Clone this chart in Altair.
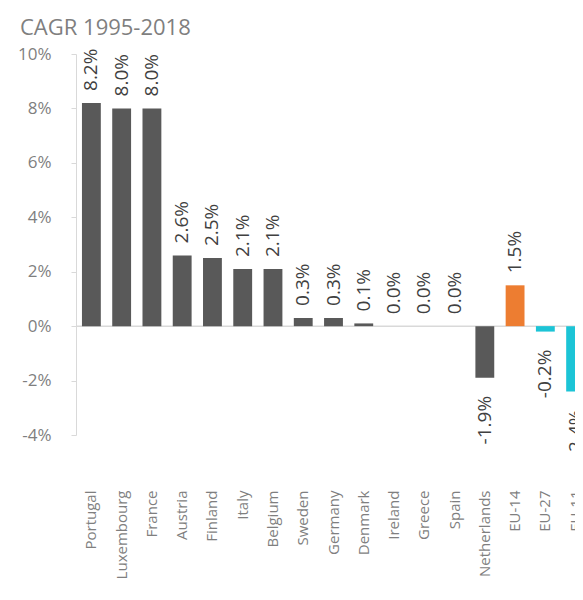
import altair as alt
import pandas as pd

countries = ["Portugal", "Luxembourg", "France", "Austria", "Finland", "Italy",
             "Belgium", "Sweden", "Germany", "Denmark", "Ireland", "Greece",
             "Spain", "Netherlands", "EU-14", "EU-27", "EU-11"]
cagr = [8.2, 8.0, 8.0, 2.6, 2.5, 2.1, 2.1, 0.3, 0.3, 0.1, 0.0, 0.0, 0.0,
        -1.9, 1.5, -0.2, -2.4]
colors = ["#595959"] * 14 + ["#ed7d31", "#1cc4d6", "#1cc4d6"]
y_ticks = [-4, -2, 0, 2, 4, 6, 8, 10]

df = pd.DataFrame({"country": countries, "value": cagr, "color": colors})
df["label"] = [f"{v:.1f}%" for v in cagr]

FONT = "Open Sans"

x_enc = alt.X(
    "country:N", sort=countries, title=None,
    scale=alt.Scale(paddingInner=0.377, paddingOuter=0.197),
    axis=alt.Axis(labelAngle=270, domain=False, ticks=False, labelPadding=55,
                  labelColor="#7f7f7f", labelFontSize=15, labelFont=FONT),
)
y_enc = alt.Y(
    "value:Q", title=None,
    scale=alt.Scale(domain=[-4, 10], nice=False),
    axis=alt.Axis(values=y_ticks, labelExpr="datum.value + '%'", grid=False,
                  domainColor="#d9d9d9", tickColor="#d9d9d9", tickSize=5,
                  labelPadding=20, labelColor="#7f7f7f", labelFontSize=17,
                  labelFont=FONT),
)

base = alt.Chart(df)

bars = base.mark_bar().encode(
    x=x_enc, y=y_enc, color=alt.Color("color:N", scale=None)
)

zero = alt.Chart(pd.DataFrame({"z": [0]})).mark_rule(
    color="#d9d9d9", strokeWidth=1.5
).encode(y="z:Q")

pos_labels = base.transform_filter("datum.value >= 0").mark_text(
    angle=270, align="left", baseline="middle", dx=12,
    font=FONT, fontSize=19, color="#404040"
).encode(x=alt.X("country:N", sort=countries), y="value:Q", text="label:N")

neg_labels = base.transform_filter("datum.value < 0").mark_text(
    angle=270, align="right", baseline="middle", dx=-18,
    font=FONT, fontSize=19, color="#404040"
).encode(x=alt.X("country:N", sort=countries), y="value:Q", text="label:N")

chart = alt.layer(zero, bars, pos_labels, neg_labels).properties(
    width=515, height=381,
    title=alt.TitleParams("CAGR 1995-2018", anchor="start", frame="group",
                          fontSize=22, color="#7f7f7f", font=FONT,
                          fontWeight="normal", dx=-56, offset=5),
    autosize=alt.AutoSizeParams(type="none"),
    padding={"left": 68, "top": 46, "right": -16, "bottom": 156},
    background="white",
).configure_view(stroke=None)

chart.save("out.html", embed_options={"renderer": "svg", "actions": False})
